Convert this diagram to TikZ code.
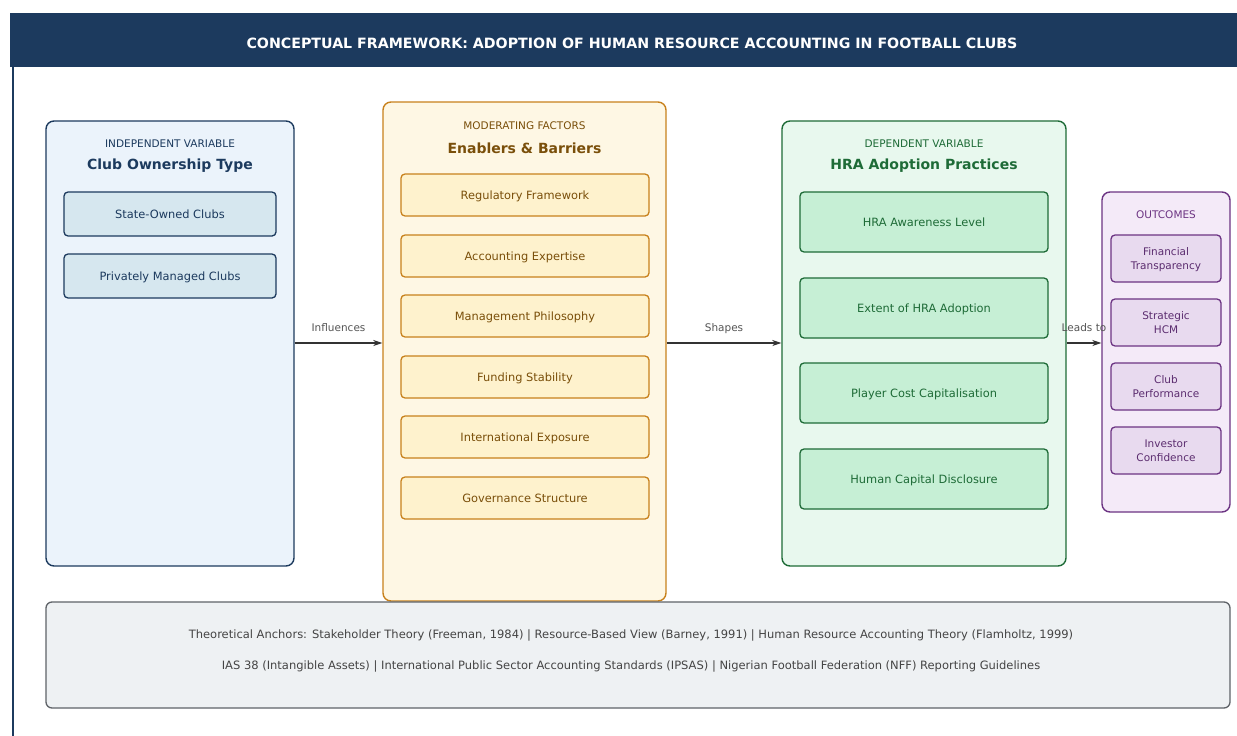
\documentclass[tikz,border=0pt]{standalone}
\usepackage{fontspec}
\setmainfont{DejaVu Sans}
\usetikzlibrary{arrows.meta}

\definecolor{navy}{HTML}{1C3A5E}
\definecolor{ivfill}{HTML}{EBF3FB}
\definecolor{ivsub}{HTML}{D6E7EF}
\definecolor{orng}{HTML}{C8811C}
\definecolor{mffill}{HTML}{FEF7E4}
\definecolor{mfsub}{HTML}{FEF2CD}
\definecolor{mftext}{HTML}{7A4F0A}
\definecolor{grn}{HTML}{1E6B37}
\definecolor{dvfill}{HTML}{E8F8EE}
\definecolor{dvsub}{HTML}{C6EFD5}
\definecolor{prp}{HTML}{6C3483}
\definecolor{ocfill}{HTML}{F4EAF8}
\definecolor{ocsub}{HTML}{E8DAEF}
\definecolor{octext}{HTML}{5B2C6F}
\definecolor{anfill}{HTML}{EEF1F3}
\definecolor{anline}{HTML}{5F6368}
\definecolor{antext}{HTML}{444444}
\definecolor{arrgrey}{HTML}{333333}
\definecolor{lblgrey}{HTML}{555555}

\tikzset{
  outerbox/.style={rectangle, rounded corners=8pt, line width=1.4pt, inner sep=0pt},
  innerbox/.style={rectangle, rounded corners=4pt, line width=1.3pt, inner sep=0pt, align=center, text depth=0pt},
  kicker/.style={font=\fontsize{10.5}{12}\selectfont},
  heading/.style={font=\fontsize{14}{16}\selectfont\bfseries},
  itemtext/.style={font=\fontsize{11.4}{14}\selectfont},
  flow/.style={line width=1.3pt, draw=arrgrey, -{Stealth[length=9pt,width=6pt]}},
  flowlabel/.style={font=\fontsize{10.5}{12}\selectfont, text=lblgrey, text height=8pt, text depth=2pt, inner sep=0pt, above=9pt, midway},
}

\begin{document}
\begin{tikzpicture}[x=1pt,y=-1pt]
\useasboundingbox (0,0) rectangle (1237,736);
\fill[white] (0,0) rectangle (1237,736);

% title bar and left rule
\fill[navy] (10,13) rectangle (1237,67);
\draw[navy, line width=2pt] (13,67) -- (13,736);
\node[text=white, font=\fontsize{14.2}{16}\selectfont\bfseries] (title) at (632,43)
  {CONCEPTUAL FRAMEWORK: ADOPTION OF HUMAN RESOURCE ACCOUNTING IN FOOTBALL CLUBS};

% independent variable
\node[outerbox, draw=navy, fill=ivfill, minimum width=248pt, minimum height=445pt] (iv) at (170,343.5) {};
\node[kicker, text=navy] (ivk) at (170,144) {INDEPENDENT VARIABLE};
\node[heading, text=navy] (ivh) at (170,166) {Club Ownership Type};
\node[innerbox, draw=navy, fill=ivsub, text=navy, itemtext, minimum width=212pt, minimum height=44pt] (iv1) at (170,214) {State-Owned Clubs};
\node[innerbox, draw=navy, fill=ivsub, text=navy, itemtext, minimum width=212pt, minimum height=44pt] (iv2) at (170,276) {Privately Managed Clubs};

% moderating factors
\node[outerbox, draw=orng, fill=mffill, minimum width=283pt, minimum height=499pt] (mf) at (524.5,351.5) {};
\node[kicker, text=mftext] (mfk) at (524.5,126) {MODERATING FACTORS};
\node[heading, text=mftext] (mfh) at (524.5,148) {Enablers \& Barriers};
\foreach \i/\y/\t in {1/195/Regulatory Framework, 2/256/Accounting Expertise, 3/316/Management Philosophy,
                      4/377/Funding Stability, 5/437/International Exposure, 6/498/Governance Structure}{
  \node[innerbox, draw=orng, fill=mfsub, text=mftext, itemtext, minimum width=248pt, minimum height=42pt] (mf\i) at (525,\y) {\t};
}

% dependent variable
\node[outerbox, draw=grn, fill=dvfill, minimum width=284pt, minimum height=445pt] (dv) at (924,343.5) {};
\node[kicker, text=grn] (dvk) at (924,144) {DEPENDENT VARIABLE};
\node[heading, text=grn] (dvh) at (924,166) {HRA Adoption Practices};
\foreach \i/\y/\t in {1/222/HRA Awareness Level, 2/308/Extent of HRA Adoption,
                      3/393/Player Cost Capitalisation, 4/479/Human Capital Disclosure}{
  \node[innerbox, draw=grn, fill=dvsub, text=grn, itemtext, minimum width=248pt, minimum height=60pt] (dv\i) at (924,\y) {\t};
}

% outcomes
\node[outerbox, draw=prp, fill=ocfill, minimum width=128pt, minimum height=320pt] (oc) at (1166,352) {};
\node[kicker, text=prp] (ock) at (1166,215) {OUTCOMES};
\foreach \i/\y/\t in {1/258.5/{Financial\\Transparency}, 2/322.5/{Strategic\\HCM},
                      3/386.5/{Club\\Performance}, 4/450.5/{Investor\\Confidence}}{
  \node[innerbox, draw=prp, fill=ocsub, text=octext, font=\fontsize{10.5}{14}\selectfont, minimum width=110pt, minimum height=47pt] (oc\i) at (1166,\y) {\t};
}

% causal flow
\coordinate (flowy) at (0,343);
\draw[flow] (iv.east |- flowy) -- (mf.west |- flowy) node[flowlabel] {Influences};
\draw[flow] (mf.east |- flowy) -- (dv.west |- flowy) node[flowlabel] {Shapes};
\draw[flow] (dv.east |- flowy) -- (oc.west |- flowy) node[flowlabel] {Leads to};

% theoretical anchors
\node[rectangle, rounded corners=6pt, line width=1.3pt, draw=anline, fill=anfill, minimum width=1184pt, minimum height=106pt] (anc) at (638,655) {};
\node[text=antext, font=\fontsize{11.5}{13}\selectfont] (anc1) at (631,635)
  {Theoretical Anchors: Stakeholder Theory (Freeman, 1984) | Resource-Based View (Barney, 1991) | Human Resource Accounting Theory (Flamholtz, 1999)};
\node[text=antext, font=\fontsize{11.5}{13}\selectfont] (anc2) at (631,666)
  {IAS 38 (Intangible Assets) | International Public Sector Accounting Standards (IPSAS) | Nigerian Football Federation (NFF) Reporting Guidelines};
\end{tikzpicture}
\end{document}
